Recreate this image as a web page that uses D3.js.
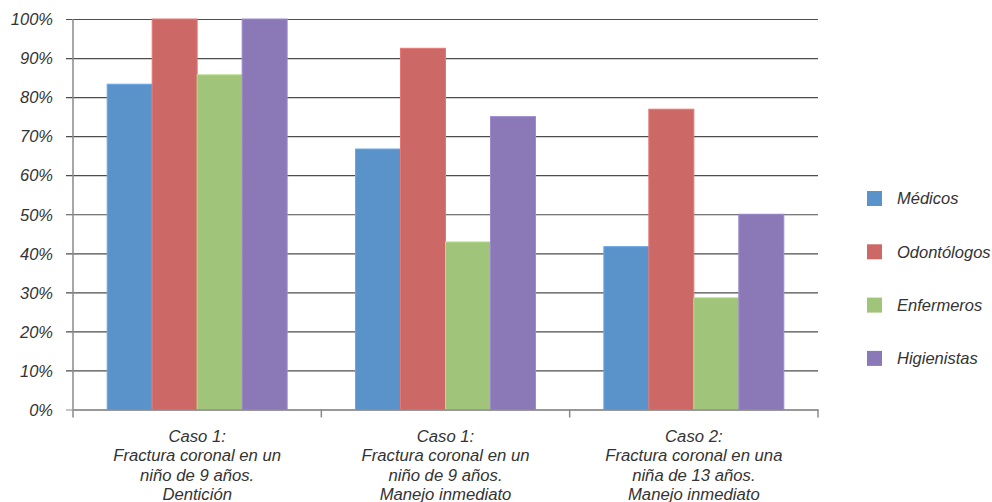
<!DOCTYPE html>
<html>
<head>
<meta charset="utf-8">
<script src="https://cdn.jsdelivr.net/npm/d3@7"></script>
<style>
  html, body { margin: 0; padding: 0; background: #fff; }
  svg { display: block; font-family: "Liberation Sans", Arial, sans-serif; }
  text { font-style: italic; fill: #333; }
</style>
</head>
<body>
<svg id="chart" width="992" height="502"></svg>
<script>
// Cases (x-axis categories), each label split in lines
const categories = ["caso1a", "caso1b", "caso2"];
const categoryLines = [
  ["Caso 1:", "Fractura coronal en un", "niño de 9 años.", "Dentición"],
  ["Caso 1:", "Fractura coronal en un", "niño de 9 años.", "Manejo inmediato"],
  ["Caso 2:", "Fractura coronal en una", "niña de 13 años.", "Manejo inmediato"]
];

// Professional groups
const series = ["Médicos", "Odontólogos", "Enfermeros", "Higienistas"];
const seriesColors = ["#5a93ca", "#cc6966", "#a0c47a", "#8b79b7"];

// Share of correct answers per group, for each case (in %)
const medicos     = [83.3, 66.7, 41.7];
const odontologos = [100, 92.5, 76.9];
const enfermeros  = [85.7, 42.9, 28.6];
const higienistas = [100, 75.0, 50.0];
const values = [medicos, odontologos, enfermeros, higienistas];

const yTicks = [0, 10, 20, 30, 40, 50, 60, 70, 80, 90, 100];

const FONT = '"Liberation Sans", Arial, sans-serif';

const svg = d3.select("#chart");
const plot = { left: 73, right: 818, top: 19, bottom: 409.5 };

const x0 = d3.scaleBand().domain(categories).range([plot.left, plot.right]).padding(0);
const x1 = d3.scaleBand().domain(series).range([0, x0.bandwidth()])
  .paddingInner(0).paddingOuter(0.76);
const y = d3.scaleLinear().domain([0, 100]).range([plot.bottom, plot.top]);
const color = d3.scaleOrdinal().domain(series).range(seriesColors);

// Horizontal gridlines with tick marks on the left
const yAxis = d3.axisLeft(y)
  .tickValues(yTicks)
  .tickSize(-(plot.right - plot.left))
  .tickFormat(d => d + "%")
  .tickPadding(20);

const gy = svg.append("g")
  .attr("transform", `translate(${plot.left},0)`)
  .call(yAxis)
  .attr("font-family", FONT)
  .attr("font-size", 16.5);
gy.select(".domain").remove();
gy.selectAll(".tick line")
  .attr("x1", -7)
  .attr("stroke", d => d === 0 ? "#8a8a8a" : "#4d4d4d")
  .attr("stroke-width", 1.2);
gy.selectAll(".tick text")
  .attr("font-style", "italic")
  .attr("fill", "#333")
  .attr("dy", "0.35em");

// Bars
const groups = svg.append("g").selectAll("g")
  .data(categories)
  .join("g")
  .attr("transform", d => `translate(${x0(d)},0)`);

groups.selectAll("rect")
  .data((c, ci) => series.map((s, si) => ({ s, v: values[si][ci] })))
  .join("rect")
  .attr("x", d => x1(d.s))
  .attr("y", d => y(d.v))
  .attr("width", x1.bandwidth())
  .attr("height", d => y(0) - y(d.v))
  .attr("fill", d => color(d.s))
  .attr("stroke", d => d3.color(color(d.s)).brighter(0.35))
  .attr("stroke-width", 1);

// Axis lines
svg.append("line")
  .attr("x1", plot.left).attr("x2", plot.left)
  .attr("y1", plot.top).attr("y2", plot.bottom)
  .attr("stroke", "#8a8a8a").attr("stroke-width", 1.5);

const xAxis = d3.axisBottom(x0).tickSize(0).tickFormat("");
const gx = svg.append("g")
  .attr("transform", `translate(0,${plot.bottom})`)
  .call(xAxis);
gx.select(".domain").attr("stroke", "#8a8a8a").attr("stroke-width", 1.5);

// Category separators below the axis
const bounds = categories.map(c => x0(c)).concat([x0(categories[categories.length - 1]) + x0.bandwidth()]);
gx.selectAll("line.sep")
  .data(bounds)
  .join("line")
  .attr("class", "sep")
  .attr("x1", d => d).attr("x2", d => d)
  .attr("y1", 0).attr("y2", 8)
  .attr("stroke", "#8a8a8a").attr("stroke-width", 1.5);

// Multi-line category labels
const labels = svg.append("g").selectAll("text")
  .data(categories)
  .join("text")
  .attr("x", d => x0(d) + x0.bandwidth() / 2)
  .attr("y", 442)
  .attr("text-anchor", "middle")
  .attr("font-family", FONT)
  .attr("font-size", 16.7);
labels.selectAll("tspan")
  .data((d, i) => categoryLines[i])
  .join("tspan")
  .attr("x", function () { return this.parentNode.getAttribute("x"); })
  .attr("dy", (d, i) => i === 0 ? 0 : 19.3)
  .text(d => d);

// Legend
const legend = svg.append("g").selectAll("g")
  .data(series)
  .join("g")
  .attr("transform", (d, i) => `translate(867,${198.5 + i * 53.3})`);
legend.append("rect")
  .attr("x", 0).attr("y", -7.5)
  .attr("width", 15).attr("height", 15)
  .attr("fill", d => color(d));
legend.append("text")
  .attr("x", 30).attr("y", 0)
  .attr("dy", "0.35em")
  .attr("font-family", FONT)
  .attr("font-size", 16.5)
  .text(d => d);
</script>
</body>
</html>
